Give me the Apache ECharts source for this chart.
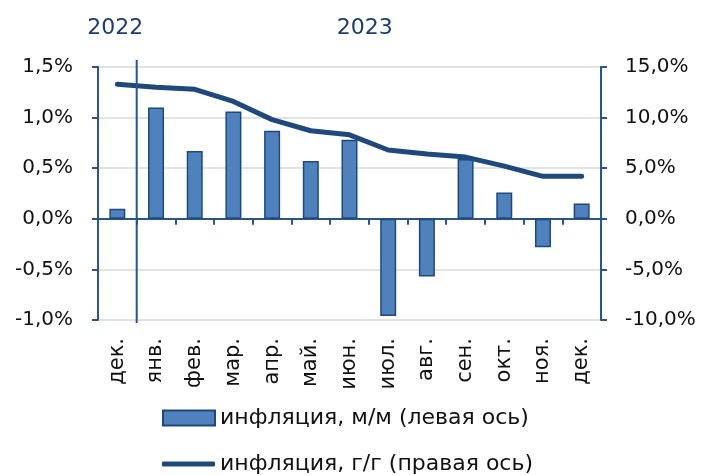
<!DOCTYPE html>
<html>
<head>
<meta charset="utf-8">
<script src="https://cdn.jsdelivr.net/npm/echarts@6/dist/echarts.min.js"></script>
<style>
html,body{margin:0;padding:0;background:#fff;}
#c{width:707px;height:475px;}
</style>
</head>
<body>
<div id="c"></div>
<script>
var categories = ['дек.', 'янв.', 'фев.', 'мар.', 'апр.', 'май.', 'июн.', 'июл.', 'авг.', 'сен.', 'окт.', 'ноя.', 'дек.'];
var momValues = [0.10, 1.10, 0.67, 1.06, 0.87, 0.57, 0.78, -0.96, -0.57, 0.59, 0.26, -0.28, 0.15];
var yoyValues = [13.3, 13.0, 12.8, 11.6, 9.8, 8.7, 8.3, 6.8, 6.4, 6.1, 5.2, 4.2, 4.2];
var yearLabels = ['2022', '2023'];
var momName = 'инфляция, м/м (левая ось)';
var yoyName = 'инфляция, г/г (правая ось)';

var FONT = 'DejaVu Sans';
var AXIS = '#2b5589';
var DARK = '#1f497d';
function fmt(v){ return v.toFixed(1).replace('.', ',') + '%'; }

var chart = echarts.init(document.getElementById('c'));
var legendText = {fontFamily: FONT, fontSize: 22, color: '#111', lineHeight: 24};
var option = {
  animation: false,
  textStyle: {fontFamily: FONT},
  grid: {left: 98, right: 106, top: 67, bottom: 155, containLabel: false},
  legend: [
    {
      orient: 'vertical', left: 162, top: 406, padding: 0,
      itemWidth: 52, itemHeight: 15,
      textStyle: legendText,
      data: [{name: momName, icon: 'rect'}]
    },
    {
      orient: 'vertical', left: 162, top: 452, padding: 0,
      itemWidth: 53, itemHeight: 5,
      textStyle: legendText,
      data: [{name: yoyName, icon: 'roundRect'}]
    }
  ],
  xAxis: [
    {
      type: 'category', data: categories, position: 'bottom',
      axisLine: {show: false}, axisTick: {show: false},
      axisLabel: {rotate: 90, fontFamily: FONT, fontSize: 21, color: '#111', margin: 18}
    },
    {
      type: 'category', data: categories, position: 'bottom',
      axisLine: {show: true, onZero: true, onZeroAxisIndex: 0, lineStyle: {color: AXIS, width: 2}},
      axisTick: {show: true, inside: false, length: 6, lineStyle: {color: AXIS, width: 2}},
      axisLabel: {show: false}
    }
  ],
  yAxis: [
    {
      type: 'value', min: -1, max: 1.5, interval: 0.5,
      axisLine: {show: true, lineStyle: {color: AXIS, width: 2}},
      axisTick: {show: true, length: 6, lineStyle: {color: AXIS, width: 2}},
      splitLine: {show: true, lineStyle: {color: '#d9d9d9', width: 1.5}},
      axisLabel: {formatter: fmt, fontFamily: FONT, fontSize: 20, color: '#111', margin: 25}
    },
    {
      type: 'value', min: -10, max: 15, interval: 5,
      axisLine: {show: true, lineStyle: {color: AXIS, width: 2}},
      axisTick: {show: true, length: 6, lineStyle: {color: AXIS, width: 2}},
      splitLine: {show: false},
      axisLabel: {formatter: fmt, fontFamily: FONT, fontSize: 20, color: '#111', margin: 24}
    }
  ],
  series: [
    {
      name: momName, type: 'bar', xAxisIndex: 0, yAxisIndex: 0,
      data: momValues, barWidth: 16,
      itemStyle: {color: '#4f81bd', borderColor: DARK, borderWidth: 1.5}
    },
    {
      name: yoyName, type: 'line', xAxisIndex: 0, yAxisIndex: 1,
      data: yoyValues, symbol: 'none',
      lineStyle: {color: DARK, width: 5, cap: 'round', join: 'round'},
      itemStyle: {color: DARK}
    }
  ]
};
chart.setOption(option);

// separator between 2022 and 2023 and year labels, positioned through the axis scales
var p0 = chart.convertToPixel({xAxisIndex: 0, yAxisIndex: 0}, [0, 1.5]);
var p1 = chart.convertToPixel({xAxisIndex: 0, yAxisIndex: 0}, [1, -1]);
var pLast = chart.convertToPixel({xAxisIndex: 0, yAxisIndex: 0}, [categories.length - 1, 0]);
var sepX = (p0[0] + p1[0]) / 2;
var centre2023 = (p1[0] + pLast[0]) / 2;
var yearFont = '22px "DejaVu Sans"';
chart.setOption({
  graphic: [
    {type: 'line', shape: {x1: sepX, y1: p0[1] - 7, x2: sepX, y2: p1[1] + 3},
     style: {stroke: AXIS, lineWidth: 2}, z: 100},
    {type: 'text', x: p0[0] - 2, y: 28,
     style: {text: yearLabels[0], fill: '#1f3d6e', font: yearFont, align: 'center', verticalAlign: 'middle'}},
    {type: 'text', x: centre2023 - 4, y: 28,
     style: {text: yearLabels[1], fill: '#1f3d6e', font: yearFont, align: 'center', verticalAlign: 'middle'}}
  ]
});
</script>
</body>
</html>
